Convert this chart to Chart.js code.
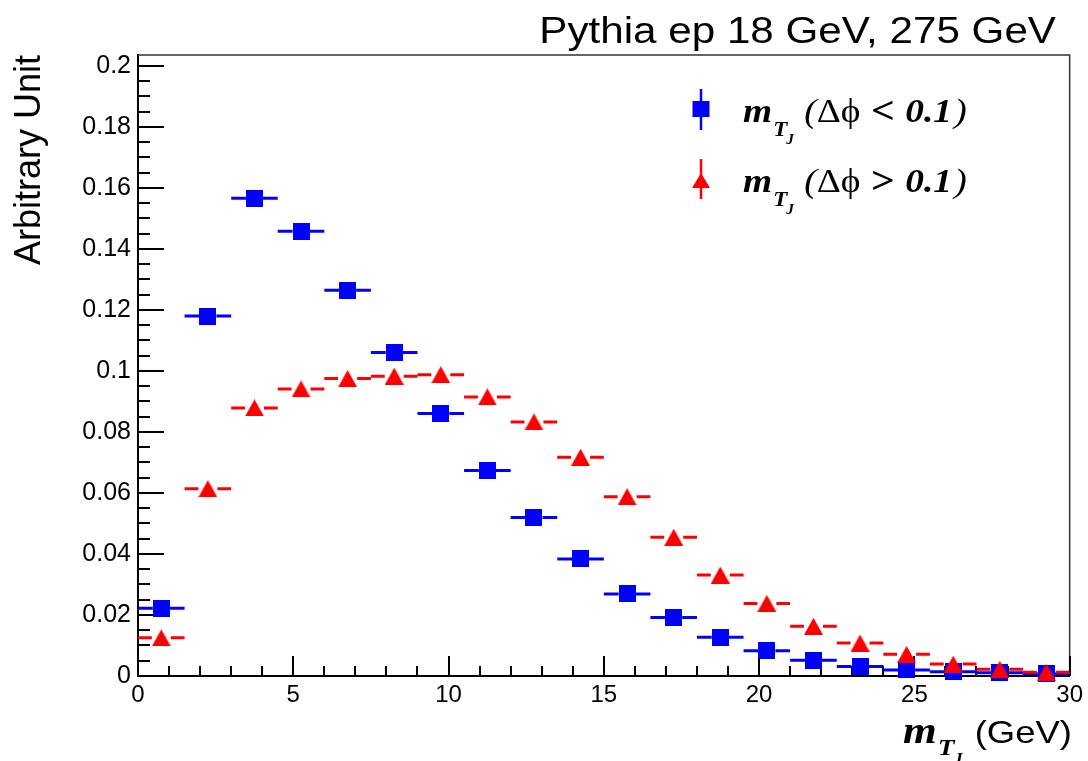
<!DOCTYPE html>
<html><head><meta charset="utf-8">
<script src="https://cdn.jsdelivr.net/npm/chart.js@4/dist/chart.umd.min.js"></script>
<style>html,body{margin:0;padding:0;background:#fff;}#wrap{width:1088px;height:761px;position:relative;}</style>
</head><body><div id="wrap"><canvas id="c" width="1088" height="761"></canvas></div>
<script>
// ---- data ----
const binCenters = [0.75, 2.25, 3.75, 5.25, 6.75, 8.25, 9.75, 11.25, 12.75, 14.25, 15.75, 17.25, 18.75, 20.25, 21.75, 23.25, 24.75, 26.25, 27.75, 29.25];
const binHalfWidth = 0.75;
const valuesBelow = [0.0222, 0.118, 0.1566, 0.1458, 0.1265, 0.1061, 0.0861, 0.0674, 0.052, 0.0384, 0.0269, 0.0192, 0.0127, 0.0083, 0.0052, 0.0031, 0.002, 0.0014, 0.0011, 0.0007];
const valuesAbove = [0.0125, 0.0614, 0.0879, 0.0941, 0.0975, 0.0983, 0.0988, 0.0915, 0.0833, 0.0717, 0.0588, 0.0455, 0.0331, 0.0238, 0.0163, 0.0108, 0.0071, 0.0039, 0.0022, 0.0012];
const xTickValues = [0, 5, 10, 15, 20, 25, 30];
const xTickLabels = ['0', '5', '10', '15', '20', '25', '30'];
const yTickValues = [0, 0.02, 0.04, 0.06, 0.08, 0.1, 0.12, 0.14, 0.16, 0.18, 0.2];
const yTickLabels = ['0', '0.02', '0.04', '0.06', '0.08', '0.1', '0.12', '0.14', '0.16', '0.18', '0.2'];
const titleText = 'Pythia ep 18 GeV, 275 GeV';
const yTitleText = 'Arbitrary Unit';
const xTitleUnit = '(GeV)';

// ---- styling ----
const BLUE = '#0000ff', RED = '#ff0000';
const SX = 1.14; // horizontal stretch of reference text
const SANS = "'Liberation Sans', Arial, Helvetica, sans-serif";
const SERIF = "'Liberation Serif', 'Times New Roman', serif";

function makeSquare(color, w, h) {
  const c = document.createElement('canvas'); c.width = w; c.height = h;
  const g = c.getContext('2d'); g.fillStyle = color; g.fillRect(0, 0, w, h); return c;
}
function makeTriangle(color, w, h) {
  const c = document.createElement('canvas'); c.width = w; c.height = h;
  const g = c.getContext('2d'); g.fillStyle = color;
  g.beginPath(); g.moveTo(w / 2, 0); g.lineTo(w, h); g.lineTo(0, h); g.closePath(); g.fill(); return c;
}
const sqMarker = makeSquare(BLUE, 17, 17);
const triMarker = makeTriangle(RED, 19, 17);

const errPlugin = {
  id: 'errbars',
  beforeDatasetDraw(chart, args) {
    const ds = chart.data.datasets[args.index];
    const xs = chart.scales.x, ys = chart.scales.y, ctx = chart.ctx;
    ctx.save();
    ctx.strokeStyle = ds.borderColor; ctx.lineWidth = 3; ctx.lineCap = 'butt';
    ds.data.forEach(p => {
      const x0 = xs.getPixelForValue(p.x - binHalfWidth), x1 = xs.getPixelForValue(p.x + binHalfWidth);
      const xc = xs.getPixelForValue(p.x), yc = ys.getPixelForValue(p.y);
      const g = ds.markerHalf;
      ctx.beginPath();
      ctx.moveTo(x0, yc); ctx.lineTo(xc - g, yc);
      ctx.moveTo(xc + g, yc); ctx.lineTo(x1, yc);
      ctx.stroke();
    });
    ctx.restore();
  }
};

const axisPlugin = {
  id: 'rootaxes',
  beforeDatasetsDraw(chart) {
    const ctx = chart.ctx, a = chart.chartArea, xs = chart.scales.x, ys = chart.scales.y;
    ctx.save();
    ctx.strokeStyle = '#333'; ctx.lineWidth = 1.5;
    ctx.beginPath(); ctx.moveTo(a.left, a.top); ctx.lineTo(a.right, a.top); ctx.lineTo(a.right, a.bottom); ctx.stroke();
    ctx.strokeStyle = '#000'; ctx.lineWidth = 2;
    for (let k = 0; k <= 30; k++) {
      const px = Math.round(xs.getPixelForValue(k));
      const len = (k % 5 === 0) ? 20 : 10;
      ctx.beginPath(); ctx.moveTo(px, a.bottom); ctx.lineTo(px, a.bottom - len); ctx.stroke();
    }
    for (let k = 0; k <= 40; k++) {
      const py = Math.round(ys.getPixelForValue(k * 0.005));
      const len = (k % 4 === 0) ? 26 : 12;
      ctx.beginPath(); ctx.moveTo(a.left, py); ctx.lineTo(a.left + len, py); ctx.stroke();
    }
    ctx.restore();
  }
};

function drawRich(ctx, segs, x, y, sx) {
  ctx.save();
  ctx.translate(x, y); ctx.scale(sx, 1);
  ctx.textAlign = 'left'; ctx.textBaseline = 'alphabetic'; ctx.fillStyle = '#000';
  let cx = 0;
  segs.forEach(s => {
    ctx.font = s.font;
    ctx.fillText(s.text, cx + (s.dx || 0), s.dy || 0);
    cx += ctx.measureText(s.text).width + (s.dx || 0) + (s.after || 0);
  });
  ctx.restore();
}
function legendSegs(sym) {
  return [
    { text: 'm', font: `italic bold 34px ${SERIF}` },
    { text: 'T', font: `italic bold 21px ${SERIF}`, dy: 14, dx: 1 },
    { text: 'J', font: `italic bold 14px ${SERIF}`, dy: 22, dx: -1 },
    { text: ' (', font: `italic 34px ${SERIF}`, dx: 1 },
    { text: 'Δϕ', font: `34px ${SERIF}` },
    { text: ' ' + sym + ' ', font: `bold 38px ${SERIF}`, dy: 1 },
    { text: '0.1', font: `italic bold 34px ${SERIF}` },
    { text: ')', font: `italic 34px ${SERIF}`, dx: 2 }
  ];
}

const textPlugin = {
  id: 'roottext',
  afterDraw(chart) {
    const ctx = chart.ctx;
    ctx.save();
    ctx.font = `37px ${SANS}`; ctx.fillStyle = '#000'; ctx.textAlign = 'right'; ctx.textBaseline = 'alphabetic';
    ctx.translate(1056, 43); ctx.scale(SX, 1); ctx.fillText(titleText, 0, 0);
    ctx.restore();
    ctx.save();
    ctx.lineWidth = 2.5;
    ctx.strokeStyle = BLUE; ctx.beginPath(); ctx.moveTo(701, 89); ctx.lineTo(701, 130); ctx.stroke();
    ctx.fillStyle = BLUE; ctx.fillRect(692.5, 101, 17, 16);
    ctx.strokeStyle = RED; ctx.beginPath(); ctx.moveTo(701, 159); ctx.lineTo(701, 199); ctx.stroke();
    ctx.fillStyle = RED; ctx.beginPath(); ctx.moveTo(701, 173); ctx.lineTo(710, 188); ctx.lineTo(692, 188); ctx.closePath(); ctx.fill();
    ctx.restore();
    drawRich(ctx, legendSegs('<'), 743, 122, 1.1);
    drawRich(ctx, legendSegs('>'), 743, 192, 1.1);
    drawRich(ctx, [
      { text: 'm', font: `italic bold 38px ${SERIF}` },
      { text: 'T', font: `italic bold 24px ${SERIF}`, dy: 12, dx: 1 },
      { text: 'J', font: `italic bold 16px ${SERIF}`, dy: 21, dx: -1 }
    ], 903, 743, SX);
    ctx.save();
    ctx.font = `32px ${SANS}`; ctx.fillStyle = '#000'; ctx.textAlign = 'right'; ctx.textBaseline = 'alphabetic';
    ctx.translate(1072, 743); ctx.scale(SX, 1); ctx.fillText(xTitleUnit, 0, 0);
    ctx.restore();
  }
};

new Chart(document.getElementById('c'), {
  type: 'scatter',
  data: {
    datasets: [
      { label: 'm_{T_J} (Δϕ < 0.1)', data: binCenters.map((x, i) => ({ x: x, y: valuesBelow[i] })),
        pointStyle: sqMarker, pointRadius: 9, borderColor: BLUE, backgroundColor: BLUE, order: 1, clip: false, markerHalf: 8.5 },
      { label: 'm_{T_J} (Δϕ > 0.1)', data: binCenters.map((x, i) => ({ x: x, y: valuesAbove[i] })),
        pointStyle: triMarker, pointRadius: 9, borderColor: RED, backgroundColor: RED, order: 0, clip: false, markerHalf: 9.5 }
    ]
  },
  options: {
    responsive: false, animation: false, devicePixelRatio: 1,
    layout: { padding: { top: 55, right: 17, bottom: 0, left: 0 } },
    plugins: { legend: { display: false }, tooltip: { enabled: false }, title: { display: false } },
    scales: {
      x: {
        type: 'linear', min: 0, max: 30,
        grid: { display: false, drawTicks: false },
        border: { display: true, color: '#000', width: 2 },
        ticks: { font: { family: SANS, size: 24 }, color: '#000', padding: 5, maxRotation: 0, autoSkip: false, includeBounds: false,
          callback: (v) => { const i = xTickValues.indexOf(v); return i >= 0 ? xTickLabels[i] : ''; } },
        afterBuildTicks: s => { s.ticks = xTickValues.map(v => ({ value: v })); },
        afterFit: s => { s.height = 85; }
      },
      y: {
        type: 'linear', min: 0, max: 0.2036,
        grid: { display: false, drawTicks: false },
        border: { display: true, color: '#000', width: 2 },
        ticks: { font: { family: SANS, size: 25 }, color: '#000', padding: 7, includeBounds: false, autoSkip: false,
          callback: (v) => { const i = yTickValues.findIndex(t => Math.abs(t - v) < 1e-9); return i >= 0 ? yTickLabels[i] : ''; } },
        afterBuildTicks: s => { s.ticks = yTickValues.map(v => ({ value: v })); },
        title: { display: true, text: yTitleText, align: 'end', color: '#000', font: { family: SANS, size: 36 }, padding: { top: 8, bottom: 0 } },
        afterFit: s => { s.width = 138; }
      }
    }
  },
  plugins: [axisPlugin, errPlugin, textPlugin]
});
</script>
</body></html>
